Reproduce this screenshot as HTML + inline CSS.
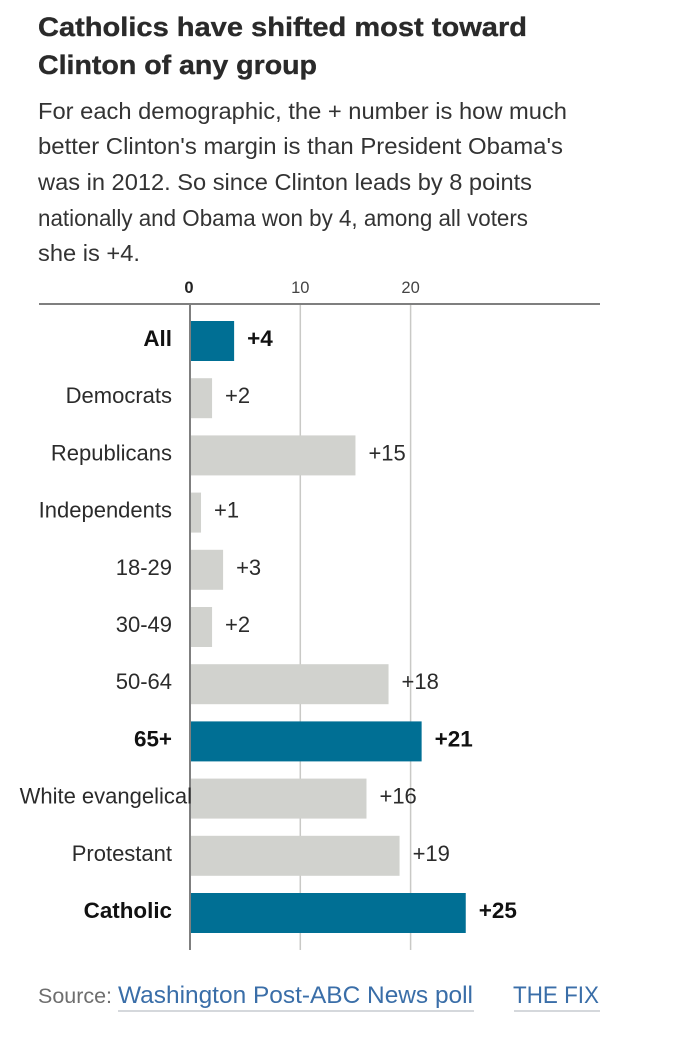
<!DOCTYPE html>
<html>
<head>
<meta charset="utf-8">
<title>Catholics have shifted most toward Clinton</title>
<style>
html,body{margin:0;padding:0;background:#fff;width:673px;height:1038px;overflow:hidden}
svg{display:block;font-family:"Liberation Sans",sans-serif}
</style>
</head>
<body>
<svg id="chart" width="673" height="1038" viewBox="0 0 673 1038">
  <g font-size="27" font-weight="700" fill="#2a2a2a" stroke="#2a2a2a" stroke-width="0.35">
    <text x="38" y="36" textLength="489" lengthAdjust="spacingAndGlyphs">Catholics have shifted most toward</text>
    <text x="38" y="74" textLength="279" lengthAdjust="spacingAndGlyphs">Clinton of any group</text>
  </g>
  <g font-size="23" fill="#333">
    <text x="38" y="119" textLength="529" lengthAdjust="spacingAndGlyphs">For each demographic, the + number is how much</text>
    <text x="38" y="154" textLength="525" lengthAdjust="spacingAndGlyphs">better Clinton's margin is than President Obama's</text>
    <text x="38" y="190" textLength="494" lengthAdjust="spacingAndGlyphs">was in 2012. So since Clinton leads by 8 points</text>
    <text x="38" y="226" textLength="490" lengthAdjust="spacingAndGlyphs">nationally and Obama won by 4, among all voters</text>
    <text x="38" y="261" textLength="102" lengthAdjust="spacingAndGlyphs">she is +4.</text>
  </g>
  <g id="plot"></g>
  <g font-size="24">
    <text x="38" y="1003" font-size="21" fill="#6e6e6e" textLength="74" lengthAdjust="spacingAndGlyphs">Source:</text>
    <text x="118" y="1003" fill="#3a6ea8" textLength="355" lengthAdjust="spacingAndGlyphs">Washington Post-ABC News poll</text>
    <rect x="118" y="1010" width="356" height="2" fill="#d5d8dc"></rect>
    <text x="513" y="1003" fill="#3a6ea8" textLength="86" lengthAdjust="spacingAndGlyphs">THE FIX</text>
    <rect x="514" y="1010" width="86" height="2" fill="#d5d8dc"></rect>
  </g>
</svg>
<script>
const categories = ["All","Democrats","Republicans","Independents","18-29","30-49","50-64","65+","White evangelical","Protestant","Catholic"];
const values = [4,2,15,1,3,2,18,21,16,19,25];
const highlighted = ["All","65+","Catholic"];
const tickValues = [0,10,20];

const NS = "http://www.w3.org/2000/svg";
const plot = document.getElementById("plot");
const x = v => 190 + v * 11.03;
const bandTop = i => 321 + i * 57.2;
const bandHeight = 40;

function make(tag, attrs, text) {
  const el = document.createElementNS(NS, tag);
  for (const k in attrs) el.setAttribute(k, attrs[k]);
  if (text !== undefined) el.textContent = text;
  plot.appendChild(el);
  return el;
}

tickValues.forEach(t => {
  if (t !== 0) {
    const grid = make("rect", {x: x(t) - 0.75, y: 304, width: 1.5, height: 646, fill: "#c9c9c6"});
    
    
  }
  const label = make("text", {x: x(t) - (t === 0 ? 1 : 0), y: 293, "text-anchor": "middle", "font-size": 16.5, "font-weight": t === 0 ? 700 : 400, fill: t === 0 ? "#222" : "#444"}, String(t));
  
  
});

const topLine = make("rect", {x: 39, y: 303, width: 561, height: 2, fill: "#7f7f7f"});



categories.forEach((c, i) => {
  const hi = highlighted.includes(c);
  const y = bandTop(i);
  const bar = make("rect", {x: x(0), y: y, width: x(values[i]) - x(0), height: bandHeight, fill: hi ? "#006f94" : "#d1d2ce"});
  
  
});

const axis = make("rect", {x: 189, y: 304, width: 2, height: 646, fill: "#7f7f7f"});



categories.forEach((c, i) => {
  const hi = highlighted.includes(c);
  const y = bandTop(i);
  const isLong = c.length > 14;
  const label = make("text", {x: isLong ? 192 : 172, y: y + 25, "text-anchor": "end", "font-size": hi ? 22.4 : 22, "font-weight": hi ? 700 : 400, fill: hi ? "#111" : "#2b2b2b"}, c);
  
  

  const val = make("text", {x: x(values[i]) + 13, y: y + 25, "font-size": hi ? 22.5 : 22, "font-weight": hi ? 700 : 400, fill: hi ? "#111" : "#2b2b2b"}, "+" + values[i]);
  
  
});
</script>
</body>
</html>
